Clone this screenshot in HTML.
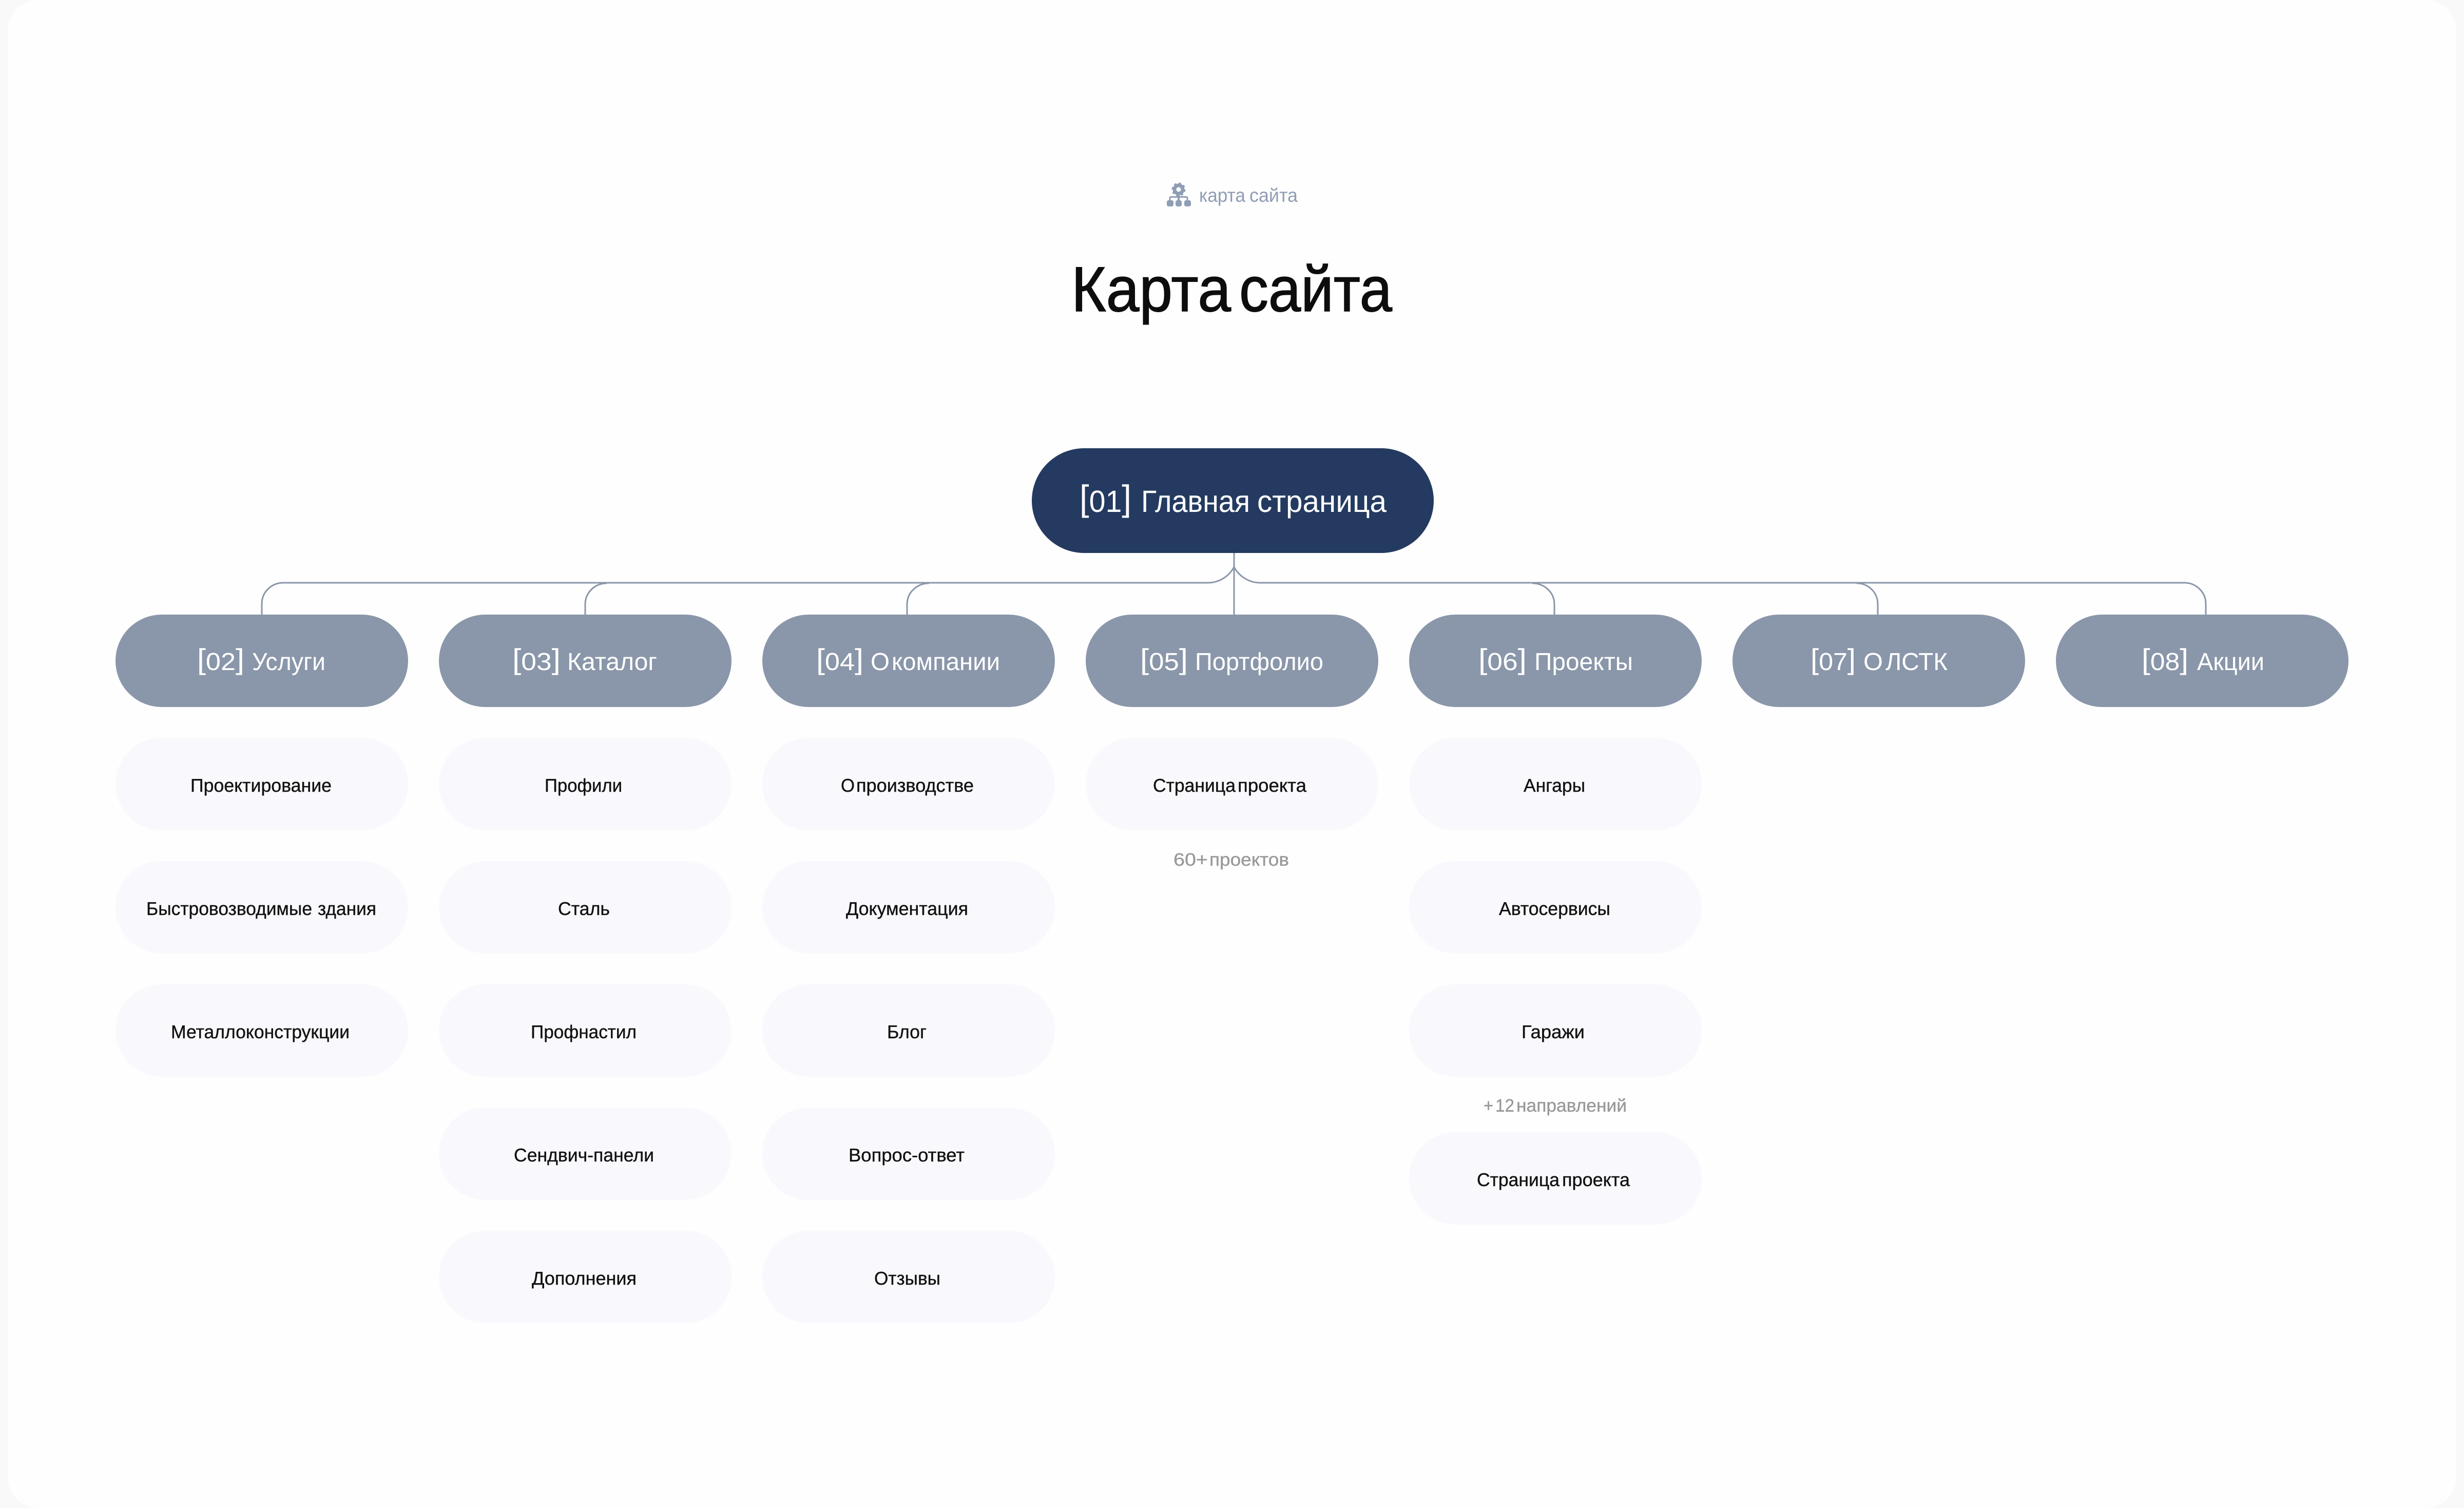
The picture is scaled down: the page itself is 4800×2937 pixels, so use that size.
<!DOCTYPE html>
<html lang="ru">
<head>
<meta charset="utf-8">
<title>Карта сайта</title>
<style>
html,body{margin:0;padding:0;width:4800px;height:2937px;background:#f9f9f9;overflow:hidden}
svg{display:block}
text{font-family:"Liberation Sans",sans-serif;text-rendering:geometricPrecision}
.h{fill:#fff;font-size:48px}
.c{fill:#111;font-size:36px;stroke:#111;stroke-width:.4px}
.g{fill:#999;font-size:35px;stroke:#999;stroke-width:.4px}
.e{fill:#8f9db5;font-size:37px}
.t{fill:#0d0d0d;font-size:124px;stroke:#0d0d0d;stroke-width:1.5px}
.r{fill:#fff;font-size:60px}
.p2{fill:#8a96a9}
.p3{fill:#f9f9fd}
</style>
</head>
<body>
<svg xmlns="http://www.w3.org/2000/svg" width="4800" height="2937" viewBox="0 0 4800 2937">
<path d="M15 60A60 60 0 0 1 75 0H4725A60 60 0 0 1 4785 60V2877A60 60 0 0 1 4725 2937H75A60 60 0 0 1 15 2877Z" fill="#fefefe"/>

<!-- eyebrow icon -->
<g fill="#8f9db5">
  <circle cx="2296" cy="369" r="8" fill="none" stroke="#8f9db5" stroke-width="7"/>
  <circle cx="2296" cy="369" r="12" fill="none" stroke="#8f9db5" stroke-width="3" stroke-dasharray="4.5 4.9"/>
  <rect x="2294" y="380" width="4" height="10"/>
  <path d="M2279 391V386Q2279 383.500 2282 383.500H2310Q2313 383.500 2313 386V391" fill="none" stroke="#8f9db5" stroke-width="3"/>
  <rect x="2273" y="390" width="13" height="12" rx="3.500"/>
  <rect x="2290" y="390" width="12" height="12" rx="3.500"/>
  <rect x="2307" y="390" width="13" height="12" rx="3.500"/>
</g>
<text class="e" x="2336" y="393" textLength="90" lengthAdjust="spacingAndGlyphs">карта</text>
<text class="e" x="2434" y="393" textLength="94" lengthAdjust="spacingAndGlyphs">сайта</text>
<text class="t" x="2087" y="606" textLength="311" lengthAdjust="spacingAndGlyphs">Карта</text>
<text class="t" x="2414" y="606" textLength="298" lengthAdjust="spacingAndGlyphs">сайта</text>

<!-- connectors -->
<g fill="none" stroke="#8a96a9" stroke-width="3">
  <path d="M2404 1077V1197"/>
  <path d="M2404 1104C2395 1122 2375 1135 2353 1135H552C529 1135 510 1153 510 1176V1197"/>
  <path d="M2404 1104C2413 1122 2433 1135 2455 1135H4255C4278 1135 4297 1153 4297 1176V1197"/>
  <path d="M1182 1136C1159 1136 1140 1154 1140 1177V1197"/>
  <path d="M1810 1136C1786 1136 1767 1154 1767 1177V1197"/>
  <path d="M2985 1136C3009 1136 3028 1154 3028 1177V1197"/>
  <path d="M3617 1136C3640 1136 3658 1154 3658 1177V1197"/>
</g>

<!-- root -->
<rect x="2010" y="873" width="783" height="204" rx="102" fill="#243a60"/>
<text class="r" x="2103" y="997" textLength="101" lengthAdjust="spacingAndGlyphs"><tspan font-size="70" dy="-3">[</tspan><tspan dy="3">01</tspan><tspan font-size="70" dy="-3">]</tspan></text>
<text class="r" x="2223" y="997" textLength="212" lengthAdjust="spacingAndGlyphs">Главная</text>
<text class="r" x="2449" y="997" textLength="252" lengthAdjust="spacingAndGlyphs">страница</text>

<!-- section pills -->
<rect class="p2" x="225" y="1197" width="570" height="180" rx="90"/>
<rect class="p2" x="855" y="1197" width="570" height="180" rx="90"/>
<rect class="p2" x="1485" y="1197" width="570" height="180" rx="90"/>
<rect class="p2" x="2115" y="1197" width="570" height="180" rx="90"/>
<rect class="p2" x="2745" y="1197" width="570" height="180" rx="90"/>
<rect class="p2" x="3375" y="1197" width="570" height="180" rx="90"/>
<rect class="p2" x="4005" y="1197" width="570" height="180" rx="90"/>

<text class="h" x="384" y="1305" textLength="92" lengthAdjust="spacingAndGlyphs"><tspan font-size="56" dy="-2">[</tspan><tspan dy="2">02</tspan><tspan font-size="56" dy="-2">]</tspan></text>
<text class="h" x="491" y="1305" textLength="143" lengthAdjust="spacingAndGlyphs">Услуги</text>
<text class="h" x="998" y="1305" textLength="94" lengthAdjust="spacingAndGlyphs"><tspan font-size="56" dy="-2">[</tspan><tspan dy="2">03</tspan><tspan font-size="56" dy="-2">]</tspan></text>
<text class="h" x="1105" y="1305" textLength="175" lengthAdjust="spacingAndGlyphs">Каталог</text>
<text class="h" x="1590" y="1305" textLength="92" lengthAdjust="spacingAndGlyphs"><tspan font-size="56" dy="-2">[</tspan><tspan dy="2">04</tspan><tspan font-size="56" dy="-2">]</tspan></text>
<text class="h" x="1696" y="1305" textLength="37" lengthAdjust="spacingAndGlyphs">О</text>
<text class="h" x="1737" y="1305" textLength="211" lengthAdjust="spacingAndGlyphs">компании</text>
<text class="h" x="2221" y="1305" textLength="93" lengthAdjust="spacingAndGlyphs"><tspan font-size="56" dy="-2">[</tspan><tspan dy="2">05</tspan><tspan font-size="56" dy="-2">]</tspan></text>
<text class="h" x="2328" y="1305" textLength="250" lengthAdjust="spacingAndGlyphs">Портфолио</text>
<text class="h" x="2880" y="1305" textLength="94" lengthAdjust="spacingAndGlyphs"><tspan font-size="56" dy="-2">[</tspan><tspan dy="2">06</tspan><tspan font-size="56" dy="-2">]</tspan></text>
<text class="h" x="2989" y="1305" textLength="192" lengthAdjust="spacingAndGlyphs">Проекты</text>
<text class="h" x="3527" y="1305" textLength="88" lengthAdjust="spacingAndGlyphs"><tspan font-size="56" dy="-2">[</tspan><tspan dy="2">07</tspan><tspan font-size="56" dy="-2">]</tspan></text>
<text class="h" x="3630" y="1305" textLength="38" lengthAdjust="spacingAndGlyphs">О</text>
<text class="h" x="3673" y="1305" textLength="121" lengthAdjust="spacingAndGlyphs">ЛСТК</text>
<text class="h" x="4172" y="1305" textLength="91" lengthAdjust="spacingAndGlyphs"><tspan font-size="56" dy="-2">[</tspan><tspan dy="2">08</tspan><tspan font-size="56" dy="-2">]</tspan></text>
<text class="h" x="4280" y="1305" textLength="131" lengthAdjust="spacingAndGlyphs">Акции</text>

<!-- child pills -->
<rect class="p3" x="225" y="1437" width="570" height="180" rx="90"/>
<rect class="p3" x="225" y="1677" width="570" height="180" rx="90"/>
<rect class="p3" x="225" y="1917" width="570" height="180" rx="90"/>

<rect class="p3" x="855" y="1437" width="570" height="180" rx="90"/>
<rect class="p3" x="855" y="1677" width="570" height="180" rx="90"/>
<rect class="p3" x="855" y="1917" width="570" height="180" rx="90"/>
<rect class="p3" x="855" y="2157" width="570" height="180" rx="90"/>
<rect class="p3" x="855" y="2397" width="570" height="180" rx="90"/>

<rect class="p3" x="1485" y="1437" width="570" height="180" rx="90"/>
<rect class="p3" x="1485" y="1677" width="570" height="180" rx="90"/>
<rect class="p3" x="1485" y="1917" width="570" height="180" rx="90"/>
<rect class="p3" x="1485" y="2157" width="570" height="180" rx="90"/>
<rect class="p3" x="1485" y="2397" width="570" height="180" rx="90"/>

<rect class="p3" x="2115" y="1437" width="570" height="180" rx="90"/>

<rect class="p3" x="2745" y="1437" width="570" height="180" rx="90"/>
<rect class="p3" x="2745" y="1677" width="570" height="180" rx="90"/>
<rect class="p3" x="2745" y="1917" width="570" height="180" rx="90"/>
<rect class="p3" x="2745" y="2205" width="570" height="180" rx="90"/>

<!-- child labels -->
<text class="c" x="371" y="1542" textLength="275" lengthAdjust="spacingAndGlyphs">Проектирование</text>
<text class="c" x="285" y="1782" textLength="323" lengthAdjust="spacingAndGlyphs">Быстровозводимые</text>
<text class="c" x="619" y="1782" textLength="114" lengthAdjust="spacingAndGlyphs">здания</text>
<text class="c" x="333" y="2022" textLength="348" lengthAdjust="spacingAndGlyphs">Металлоконструкции</text>

<text class="c" x="1061" y="1542" textLength="151" lengthAdjust="spacingAndGlyphs">Профили</text>
<text class="c" x="1087" y="1782" textLength="101" lengthAdjust="spacingAndGlyphs">Сталь</text>
<text class="c" x="1034" y="2022" textLength="206" lengthAdjust="spacingAndGlyphs">Профнастил</text>
<text class="c" x="1001" y="2262" textLength="273" lengthAdjust="spacingAndGlyphs">Сендвич-панели</text>
<text class="c" x="1036" y="2502" textLength="204" lengthAdjust="spacingAndGlyphs">Дополнения</text>

<text class="c" x="1638" y="1542" textLength="27" lengthAdjust="spacingAndGlyphs">О</text>
<text class="c" x="1668" y="1542" textLength="229" lengthAdjust="spacingAndGlyphs">производстве</text>
<text class="c" x="1648" y="1782" textLength="238" lengthAdjust="spacingAndGlyphs">Документация</text>
<text class="c" x="1728" y="2022" textLength="77" lengthAdjust="spacingAndGlyphs">Блог</text>
<text class="c" x="1653" y="2262" textLength="226" lengthAdjust="spacingAndGlyphs">Вопрос-ответ</text>
<text class="c" x="1703" y="2502" textLength="129" lengthAdjust="spacingAndGlyphs">Отзывы</text>

<text class="c" x="2246" y="1542" textLength="161" lengthAdjust="spacingAndGlyphs">Страница</text>
<text class="c" x="2411" y="1542" textLength="134" lengthAdjust="spacingAndGlyphs">проекта</text>
<text class="g" x="2286" y="1686" textLength="67" lengthAdjust="spacingAndGlyphs">60+</text>
<text class="g" x="2356" y="1686" textLength="155" lengthAdjust="spacingAndGlyphs">проектов</text>

<text class="c" x="2968" y="1542" textLength="120" lengthAdjust="spacingAndGlyphs">Ангары</text>
<text class="c" x="2920" y="1782" textLength="217" lengthAdjust="spacingAndGlyphs">Автосервисы</text>
<text class="c" x="2964" y="2022" textLength="123" lengthAdjust="spacingAndGlyphs">Гаражи</text>
<text class="g" x="2890" y="2165" textLength="19" lengthAdjust="spacingAndGlyphs">+</text>
<text class="g" x="2913" y="2165" textLength="37" lengthAdjust="spacingAndGlyphs">12</text>
<text class="g" x="2954" y="2165" textLength="215" lengthAdjust="spacingAndGlyphs">направлений</text>
<text class="c" x="2877" y="2310" textLength="161" lengthAdjust="spacingAndGlyphs">Страница</text>
<text class="c" x="3043" y="2310" textLength="132" lengthAdjust="spacingAndGlyphs">проекта</text>
</svg>
</body>
</html>
